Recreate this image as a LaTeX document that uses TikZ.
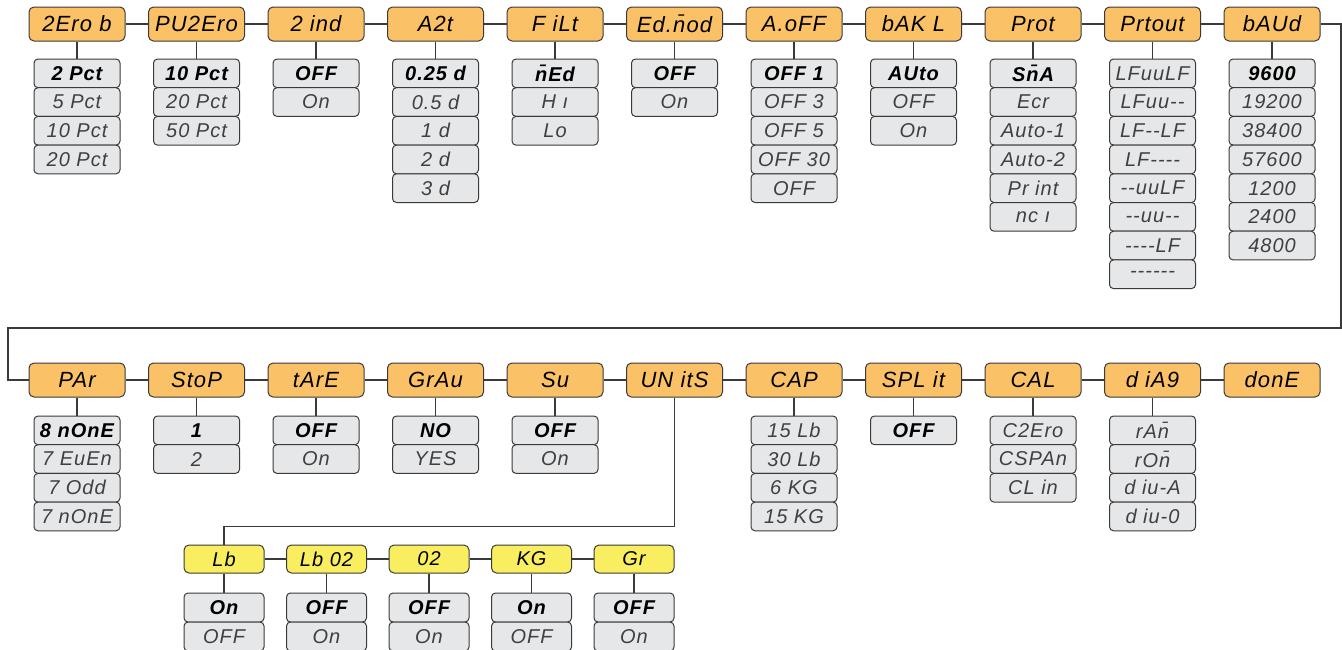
\documentclass[tikz,border=0pt]{standalone}
\usepackage{fontspec}
\setmainfont{Liberation Sans}[Ligatures=TeXOff]
\newfontfamily\segfont{Liberation Sans}[Ligatures=TeXOff, LetterSpace=5]
\usetikzlibrary{positioning,calc}
\definecolor{menuorange}{HTML}{FBC166}
\definecolor{unityellow}{HTML}{F9EE5F}
\definecolor{optgray}{HTML}{E6E7E8}
\definecolor{edgegray}{HTML}{3A3A3A}
\tikzset{
	head/.style={draw=edgegray, fill=menuorange, rounded corners=2.5pt, line width=0.5pt, minimum width=48pt, minimum height=17pt, inner sep=0pt, font=\segfont\fontsize{11}{12}\selectfont\itshape},
	unitbox/.style={head, fill=unityellow, minimum width=40pt, minimum height=14pt, font=\segfont\fontsize{10}{11}\selectfont\itshape},
	opt/.style={draw=edgegray, fill=optgray, rounded corners=2pt, line width=0.5pt, minimum width=43pt, minimum height=14.35pt, inner sep=0pt, text=black!75, font=\segfont\fontsize{10}{11}\selectfont\itshape},
	defopt/.style={opt, text=black, font=\segfont\fontsize{10}{11}\selectfont\bfseries\itshape},
	unitopt/.style={opt, minimum width=40pt, minimum height=14.5pt},
	unitdef/.style={defopt, minimum width=40pt, minimum height=14.5pt},
	link/.style={draw=edgegray, line width=0.65pt},
}

\begin{document}
\begin{tikzpicture}[x=0.5pt, y=-0.5pt]
	\useasboundingbox (0,0) rectangle (1342,649);

	\node[head] (zero) at (77,24) {2Ero b};
	\node[head] (puzero) at (196.5,24) {PU2Ero};
	\node[head] (zind) at (316,24) {2 ind};
	\node[head] (azt) at (435.5,24) {A2t};
	\node[head] (filt) at (555,24) {F iLt};
	\node[head] (edmod) at (674.5,24) {Ed.n̄od};
	\node[head] (aoff) at (794,24) {A.oFF};
	\node[head] (bakl) at (913.5,24) {bAK L};
	\node[head] (prot) at (1033,24) {Prot};
	\node[head] (prtout) at (1152.5,24) {Prtout};
	\node[head] (baud) at (1272,24) {bAUd};

	\node[head] (par) at (77,380) {PAr};
	\node[head] (stop) at (196.5,380) {StoP};
	\node[head] (tare) at (316,380) {tArE};
	\node[head] (grau) at (435.5,380) {GrAu};
	\node[head] (su) at (555,380) {Su};
	\node[head] (units) at (674.5,380) {UN itS};
	\node[head] (cap) at (794,380) {CAP};
	\node[head] (split) at (913.5,380) {SPL it};
	\node[head] (cal) at (1033,380) {CAL};
	\node[head] (diag) at (1152.5,380) {d iA9};
	\node[head] (done) at (1272,380) {donE};

	\node[unitbox] (lb) at (224,559) {Lb};
	\node[unitbox] (lboz) at (326.5,559) {Lb 02};
	\node[unitbox] (oz) at (429,559) {02};
	\node[unitbox] (kg) at (531.5,559) {KG};
	\node[unitbox] (gr) at (634,559) {Gr};

	\node[defopt] (zero0) at (77,73.35) {2 Pct};
	\foreach \t [count=\i] in {5 Pct,10 Pct,20 Pct}
		\node[opt] (zero\i) at (77,{73.35+28.7*\i}) {\t};
	\node[defopt] (puzero0) at (196.5,73.35) {10 Pct};
	\foreach \t [count=\i] in {20 Pct,50 Pct}
		\node[opt] (puzero\i) at (196.5,{73.35+28.7*\i}) {\t};
	\node[defopt] (zind0) at (316,73.35) {OFF};
	\node[opt] (zind1) at (316,102.05) {On};
	\node[defopt] (azt0) at (435.5,73.35) {0.25 d};
	\foreach \t [count=\i] in {0.5 d,1 d,2 d,3 d}
		\node[opt] (azt\i) at (435.5,{73.35+28.7*\i}) {\t};
	\node[defopt] (filt0) at (555,73.35) {n̄Ed};
	\foreach \t [count=\i] in {H ı,Lo}
		\node[opt] (filt\i) at (555,{73.35+28.7*\i}) {\t};
	\node[defopt] (edmod0) at (674.5,73.35) {OFF};
	\node[opt] (edmod1) at (674.5,102.05) {On};
	\node[defopt] (aoff0) at (794,73.35) {OFF 1};
	\foreach \t [count=\i] in {OFF 3,OFF 5,OFF 30,OFF}
		\node[opt] (aoff\i) at (794,{73.35+28.7*\i}) {\t};
	\node[defopt] (bakl0) at (913.5,73.35) {AUto};
	\foreach \t [count=\i] in {OFF,On}
		\node[opt] (bakl\i) at (913.5,{73.35+28.7*\i}) {\t};
	\node[defopt] (prot0) at (1033,73.35) {Sn̄A};
	\foreach \t [count=\i] in {Ecr,Auto-1,Auto-2,Pr int,nc ı}
		\node[opt] (prot\i) at (1033,{73.35+28.7*\i}) {\t};
	\foreach \t [count=\i from 0] in {LFuuLF,LFuu--,LF--LF,LF----,--uuLF,--uu--,----LF,------}
		\node[opt] (prtout\i) at (1152.5,{73.35+28.7*\i}) {\t};
	\node[defopt] (baud0) at (1272,73.35) {9600};
	\foreach \t [count=\i] in {19200,38400,57600,1200,2400,4800}
		\node[opt] (baud\i) at (1272,{73.35+28.7*\i}) {\t};

	\node[defopt] (par0) at (77,430.35) {8 nOnE};
	\foreach \t [count=\i] in {7 EuEn,7 Odd,7 nOnE}
		\node[opt] (par\i) at (77,{430.35+28.7*\i}) {\t};
	\node[defopt] (stop0) at (196.5,430.35) {1};
	\node[opt] (stop1) at (196.5,459.05) {2};
	\node[defopt] (tare0) at (316,430.35) {OFF};
	\node[opt] (tare1) at (316,459.05) {On};
	\node[defopt] (grau0) at (435.5,430.35) {NO};
	\node[opt] (grau1) at (435.5,459.05) {YES};
	\node[defopt] (su0) at (555,430.35) {OFF};
	\node[opt] (su1) at (555,459.05) {On};
	\foreach \t [count=\i from 0] in {15 Lb,30 Lb,6 KG,15 KG}
		\node[opt] (cap\i) at (794,{430.35+28.7*\i}) {\t};
	\node[defopt] (split0) at (913.5,430.35) {OFF};
	\foreach \t [count=\i from 0] in {C2Ero,CSPAn,CL in}
		\node[opt] (cal\i) at (1033,{430.35+28.7*\i}) {\t};
	\foreach \t [count=\i from 0] in {rAn̄,rOn̄,d iu-A,d iu-0}
		\node[opt] (diag\i) at (1152.5,{430.35+28.7*\i}) {\t};

	\node[unitdef] (lb0) at (224,607.5) {On};
	\node[unitopt] (lb1) at (224,636.5) {OFF};
	\node[unitdef] (lboz0) at (326.5,607.5) {OFF};
	\node[unitopt] (lboz1) at (326.5,636.5) {On};
	\node[unitdef] (oz0) at (429,607.5) {OFF};
	\node[unitopt] (oz1) at (429,636.5) {On};
	\node[unitdef] (kg0) at (531.5,607.5) {On};
	\node[unitopt] (kg1) at (531.5,636.5) {OFF};
	\node[unitdef] (gr0) at (634,607.5) {OFF};
	\node[unitopt] (gr1) at (634,636.5) {On};

	\draw[link] (zero) -- (puzero) -- (zind) -- (azt) -- (filt) -- (edmod) -- (aoff) -- (bakl) -- (prot) -- (prtout) -- (baud);
	\draw[link] (par) -- (stop) -- (tare) -- (grau) -- (su) -- (units) -- (cap) -- (split) -- (cal) -- (diag) -- (done);
	\draw[link] (lb) -- (lboz) -- (oz) -- (kg) -- (gr);
	\foreach \n in {zero,puzero,zind,azt,filt,edmod,aoff,bakl,prot,prtout,baud,par,stop,tare,grau,su,cap,split,cal,diag,lb,lboz,oz,kg,gr}
		\draw[link] (\n) -- (\n0);

	\coordinate (turnR) at (1341,328);
	\coordinate (turnL) at (8,328);
	\draw[link] (baud.east) -| (turnR) -- (turnL) |- (par.west);
	\draw[link] (units.south) -- ++(0,129) -| (lb.north);
\end{tikzpicture}
\end{document}
